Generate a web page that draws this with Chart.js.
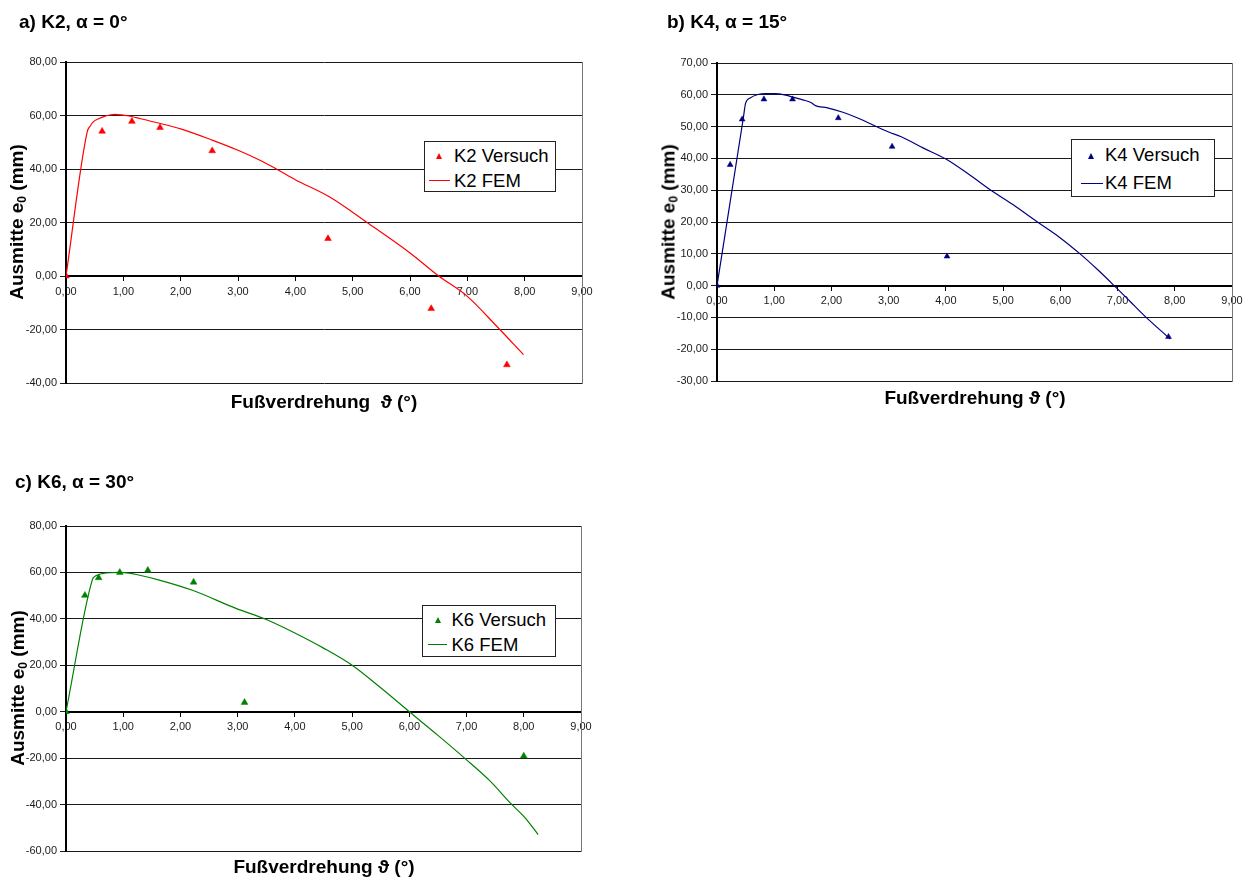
<!DOCTYPE html>
<html>
<head>
<meta charset="utf-8">
<script src="https://cdn.jsdelivr.net/npm/chart.js@4/dist/chart.umd.min.js"></script>
<style>
  html, body { margin:0; padding:0; background:#fff; }
  body { width:1252px; height:880px; position:relative; overflow:hidden; font-family: Arial, "Liberation Sans", sans-serif; }
  canvas { position:absolute; }
  .t { position:absolute; white-space:nowrap; font-weight:bold; line-height:1; color:#000; font-size:19px; }
  .xt { transform: translateX(-50%); }
  .yt { transform: translate(-50%,-50%) rotate(-90deg); }
  .yt sub { font-size:12px; vertical-align:-3px; line-height:0; }
  .leg { position:absolute; box-sizing:border-box; border:1px solid #222; background:#fff; }
  .lt { position:absolute; white-space:nowrap; font-size:18.5px; line-height:1; color:#000; font-weight:normal; }
  .tri { position:absolute; width:0; height:0; border-left:3.5px solid transparent; border-right:3.5px solid transparent; }
  .ln { position:absolute; height:0; }
</style>
</head>
<body>
<canvas id="cA" width="620" height="420" style="left:0px;top:0px;"></canvas>
<canvas id="cB" width="612" height="420" style="left:640px;top:0px;"></canvas>
<canvas id="cC" width="620" height="440" style="left:0px;top:440px;"></canvas>

<div class="t" style="left:19px;top:12px;">a) K2, α = 0°</div>
<div class="t" style="left:667px;top:12px;">b) K4, α = 15°</div>
<div class="t" style="left:15px;top:472px;">c) K6, α = 30°</div>

<div class="t xt" style="left:324px;top:392px;">Fußverdrehung&nbsp;&nbsp;ϑ (°)</div>
<div class="t xt" style="left:975px;top:388px;">Fußverdrehung ϑ (°)</div>
<div class="t xt" style="left:324px;top:857px;">Fußverdrehung ϑ (°)</div>

<div class="t yt" style="left:16px;top:222px;">Ausmitte e<sub>0</sub> (mm)</div>
<div class="t yt" style="left:668px;top:222px;">Ausmitte e<sub>0</sub> (mm)</div>
<div class="t yt" style="left:17px;top:688px;">Ausmitte e<sub>0</sub> (mm)</div>

<!-- legends -->
<div class="leg" style="left:424px;top:141px;width:132px;height:51px;"></div>
<div class="tri" style="left:436px;top:153px;border-bottom:6.5px solid #ff0000;"></div>
<div class="lt" style="left:454px;top:147px;" id="lA1"></div>
<div class="ln" style="left:429px;top:180px;width:21px;border-top:1px solid #ff0000;"></div>
<div class="lt" style="left:454px;top:171.5px;" id="lA2"></div>

<div class="leg" style="left:1071px;top:139px;width:144px;height:58px;"></div>
<div class="tri" style="left:1087.5px;top:153px;border-left-width:3px;border-right-width:3px;border-bottom:6px solid #000080;"></div>
<div class="lt" style="left:1105px;top:146px;" id="lB1"></div>
<div class="ln" style="left:1081px;top:182.5px;width:22px;border-top:1px solid #000080;"></div>
<div class="lt" style="left:1105px;top:173.5px;" id="lB2"></div>

<div class="leg" style="left:422px;top:605px;width:134px;height:52px;"></div>
<div class="tri" style="left:434.5px;top:616.5px;border-bottom:6.5px solid #008000;"></div>
<div class="lt" style="left:451.5px;top:610.5px;" id="lC1"></div>
<div class="ln" style="left:428px;top:644px;width:19px;border-top:1px solid #008000;"></div>
<div class="lt" style="left:451.5px;top:635.5px;" id="lC2"></div>

<script>
// ---------- data ----------
const seriesNamesA = ["K2 Versuch", "K2 FEM"];
const seriesNamesB = ["K4 Versuch", "K4 FEM"];
const seriesNamesC = ["K6 Versuch", "K6 FEM"];

const xTickValues = [0, 1, 2, 3, 4, 5, 6, 7, 8, 9];
const yTickValuesA = [-40, -20, 0, 20, 40, 60, 80];
const yTickValuesB = [-30, -20, -10, 0, 10, 20, 30, 40, 50, 60, 70];
const yTickValuesC = [-60, -40, -20, 0, 20, 40, 60, 80];

// K2 (alpha = 0°)
const k2VersuchX = [0, 0.63, 1.15, 1.64, 2.55, 4.57, 6.37, 7.69];
const k2VersuchY = [0, 54.1, 57.8, 55.5, 46.8, 14.0, -12.2, -33.2];
const k2FemX = [0, 0.37, 0.42, 0.48, 0.57, 0.66, 0.76, 0.86, 0.97, 1.07, 1.30, 1.65, 2.00, 2.55, 3.00, 3.40, 3.67, 4.00, 4.60, 5.25, 6.00, 6.50, 7.00, 7.50, 7.98];
const k2FemY = [0, 53.9, 56.0, 57.7, 58.8, 59.6, 60.2, 60.4, 60.2, 59.9, 58.8, 57.0, 55.0, 50.8, 47.0, 43.1, 40.0, 36.0, 29.5, 20.0, 8.6, 0.0, -7.6, -18.5, -29.4];

// K4 (alpha = 15°)
const k4VersuchX = [0, 0.23, 0.44, 0.82, 1.32, 2.12, 3.06, 4.02, 7.89];
const k4VersuchY = [0, 38.0, 52.3, 58.6, 58.6, 52.7, 43.7, 9.2, -16.1];
const k4FemX = [0, 0.46, 0.50, 0.58, 0.70, 0.85, 1.02, 1.20, 1.34, 1.50, 1.64, 1.72, 1.93, 2.20, 2.46, 3.00, 3.22, 3.60, 4.00, 4.40, 4.80, 5.20, 5.60, 6.00, 6.33, 6.64, 6.94, 7.22, 7.50, 7.92];
const k4FemY = [0, 52.7, 57.4, 59.0, 60.0, 60.4, 60.4, 59.9, 59.2, 58.4, 57.6, 56.6, 55.9, 54.5, 52.7, 48.3, 46.8, 43.3, 39.8, 35.0, 29.8, 25.1, 20.0, 15.0, 10.2, 5.2, 0.0, -5.0, -10.0, -16.8];

// K6 (alpha = 30°)
const k6VersuchX = [0, 0.33, 0.57, 0.94, 1.43, 2.23, 3.12, 8.00];
const k6VersuchY = [0, 50.1, 57.7, 60.0, 60.9, 55.8, 4.0, -19.1];
const k6FemX = [0, 0.46, 0.50, 0.56, 0.65, 0.80, 0.94, 1.10, 1.23, 1.63, 2.21, 2.97, 3.49, 3.99, 4.50, 5.00, 5.50, 6.00, 6.50, 6.98, 7.40, 7.78, 8.02, 8.25];
const k6FemY = [0, 56.8, 58.2, 59.0, 59.6, 59.9, 60.0, 59.7, 59.1, 56.7, 52.3, 44.5, 39.8, 34.0, 27.4, 20.0, 10.3, 0.0, -10.2, -20.3, -29.6, -39.7, -45.6, -52.9];

// ---------- rendering ----------
const fmt = v => Number(v).toFixed(2).replace('.', ',');
const pts = (xs, ys) => xs.map((x, i) => ({ x: x, y: ys[i] }));
const tickFont = { family: 'Arial, "Liberation Sans", sans-serif', size: 11 };
const tickColor = '#1a1a1a';

function makeChart(id, o) {
  const yMin = Math.min(...o.yTicks), yMax = Math.max(...o.yTicks);
  new Chart(document.getElementById(id), {
    type: 'scatter',
    data: {
      datasets: [
        { label: o.names[0], data: pts(o.vx, o.vy), showLine: false,
          pointStyle: 'triangle', pointRadius: o.r, pointHoverRadius: o.r,
          pointBackgroundColor: o.color, pointBorderColor: o.color, pointBorderWidth: 0.5 },
        { label: o.names[1], data: pts(o.fx, o.fy), showLine: true, pointRadius: 0,
          borderColor: o.color, borderWidth: 1.2, cubicInterpolationMode: 'monotone', fill: false }
      ]
    },
    options: {
      responsive: false, animation: false, devicePixelRatio: 1,
      layout: { padding: o.pad },
      plugins: { legend: { display: false }, tooltip: { enabled: false }, title: { display: false } },
      scales: {
        x: {
          type: 'linear', position: { y: 0 },
          min: Math.min(...xTickValues), max: Math.max(...xTickValues),
          afterBuildTicks: s => { s.ticks = xTickValues.map(v => ({ value: v })); },
          ticks: { callback: fmt, font: tickFont, color: tickColor, padding: 5, maxRotation: 0, autoSkip: false },
          grid: { display: true, drawOnChartArea: false, drawTicks: true, tickLength: 4, color: '#000' },
          border: { display: true, color: '#000', width: 2 },
          afterFit: s => { s.height = 0; }
        },
        y: {
          type: 'linear', position: 'left', min: yMin, max: yMax,
          afterBuildTicks: s => { s.ticks = o.yTicks.map(v => ({ value: v })); },
          ticks: { callback: fmt, font: tickFont, color: tickColor, padding: 3, autoSkip: false },
          grid: { color: '#1a1a1a', lineWidth: 1, drawTicks: true, tickLength: 6 },
          border: { display: true, color: '#000', width: 2 },
          afterFit: s => { s.width = o.yw; }
        },
        y2: {
          type: 'linear', position: 'right', min: yMin, max: yMax, display: true,
          ticks: { display: false },
          grid: { drawOnChartArea: false, drawTicks: false },
          border: { display: true, color: '#777', width: 1 },
          afterFit: s => { s.width = 0; }
        }
      }
    }
  });
}

makeChart('cA', { names: seriesNamesA, vx: k2VersuchX, vy: k2VersuchY, fx: k2FemX, fy: k2FemY,
  yTicks: yTickValuesA, color: '#ff0000', r: 3.9, yw: 66, pad: { left: 0, top: 62, right: 38, bottom: 37 } });
makeChart('cB', { names: seriesNamesB, vx: k4VersuchX, vy: k4VersuchY, fx: k4FemX, fy: k4FemY,
  yTicks: yTickValuesB, color: '#000080', r: 3.4, yw: 77, pad: { left: 0, top: 63, right: 20, bottom: 39 } });
makeChart('cC', { names: seriesNamesC, vx: k6VersuchX, vy: k6VersuchY, fx: k6FemX, fy: k6FemY,
  yTicks: yTickValuesC, color: '#008000', r: 3.9, yw: 66, pad: { left: 0, top: 86, right: 39, bottom: 29 } });

document.getElementById('lA1').textContent = seriesNamesA[0];
document.getElementById('lA2').textContent = seriesNamesA[1];
document.getElementById('lB1').textContent = seriesNamesB[0];
document.getElementById('lB2').textContent = seriesNamesB[1];
document.getElementById('lC1').textContent = seriesNamesC[0];
document.getElementById('lC2').textContent = seriesNamesC[1];
</script>
</body>
</html>
